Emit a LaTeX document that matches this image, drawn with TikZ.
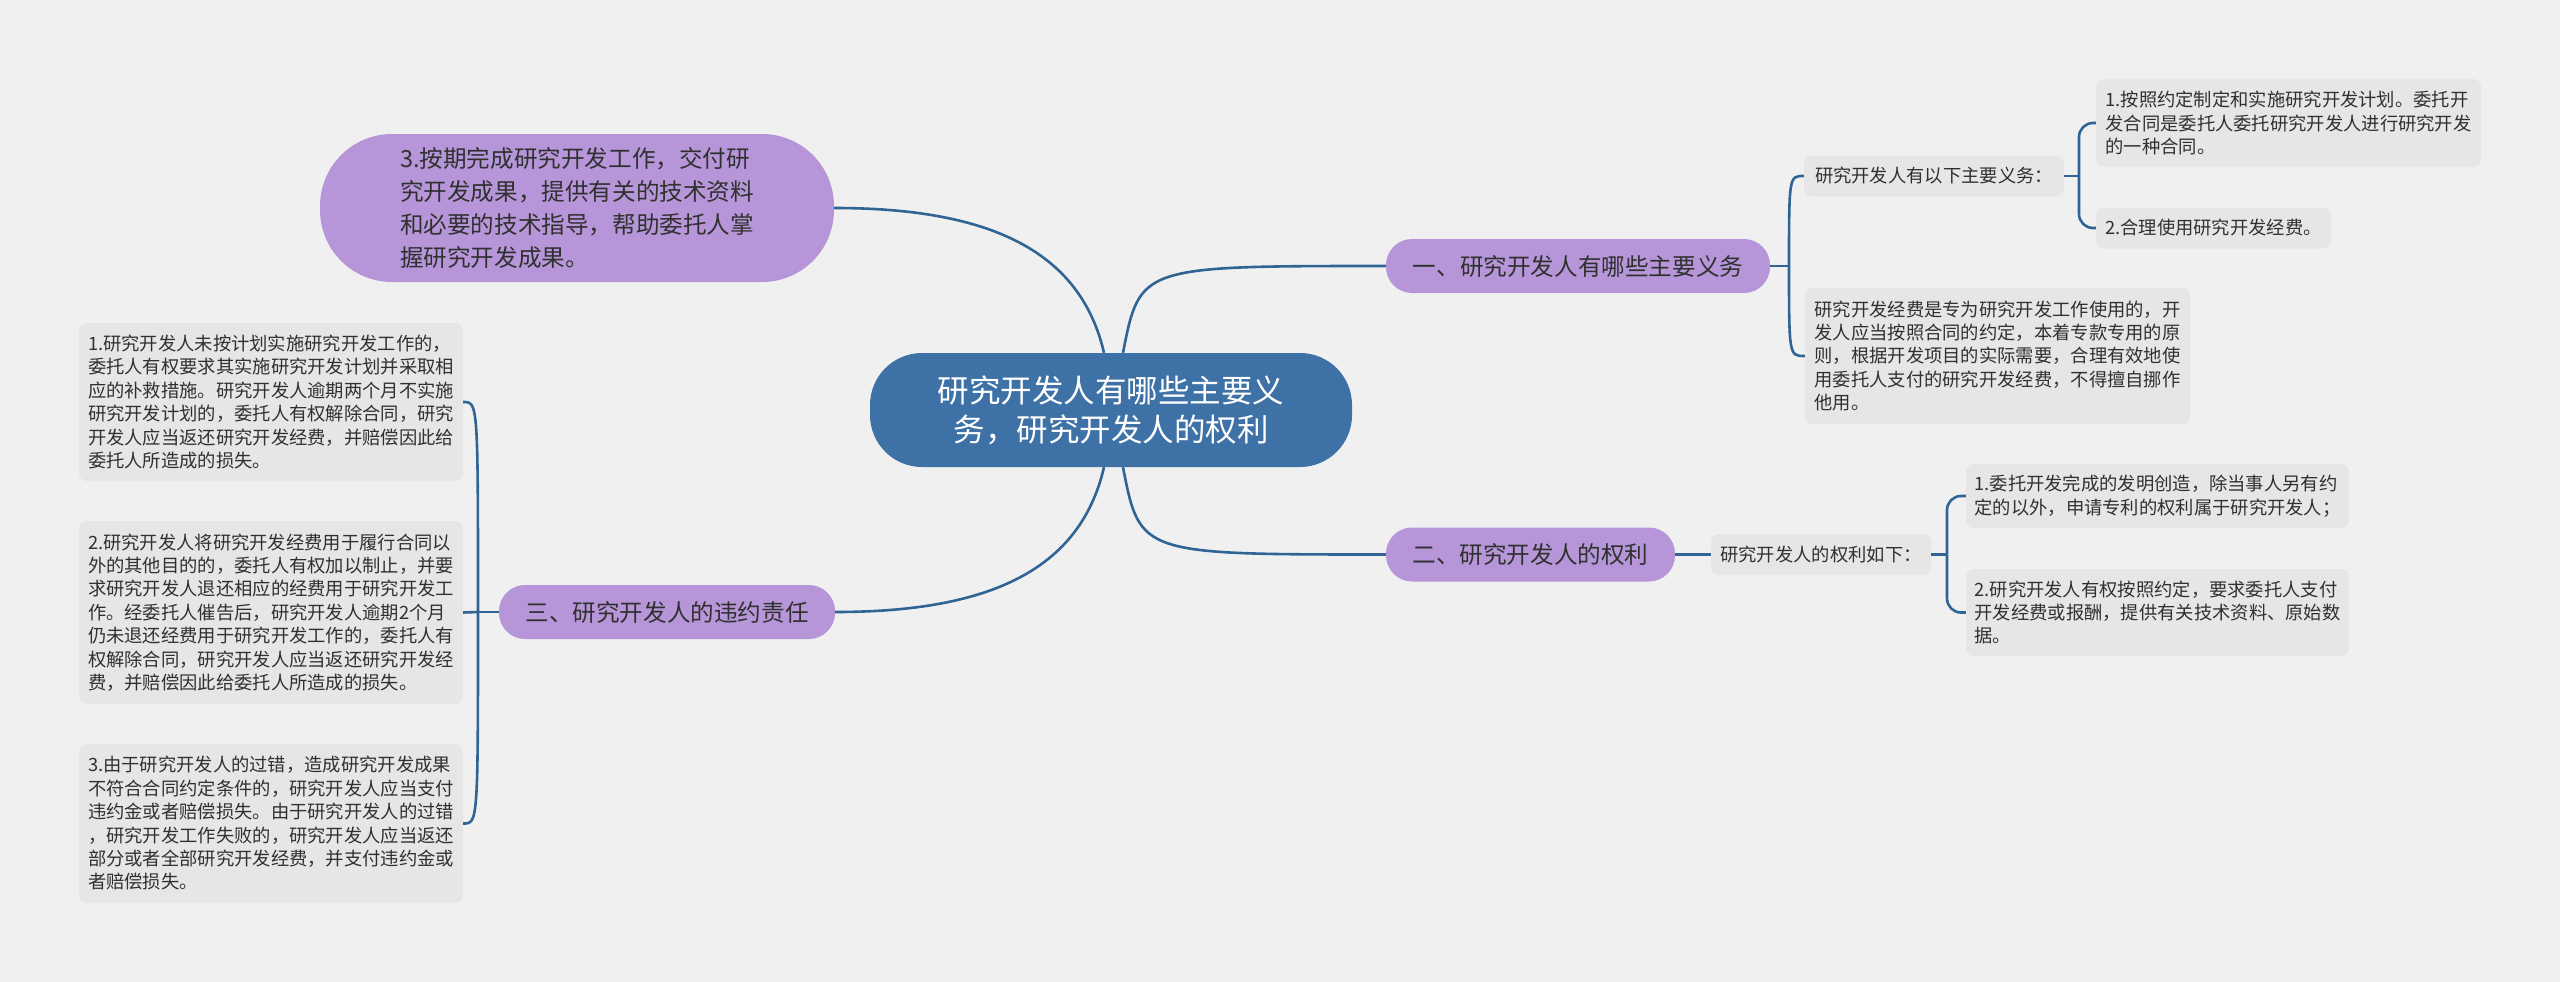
\documentclass[tikz,border=0pt]{standalone}
\usepackage{fontspec}
\setmainfont{Noto Sans CJK SC}
\usetikzlibrary{positioning,calc}
\definecolor{bgcol}{HTML}{F0F0F0}
\definecolor{rootblue}{HTML}{3E72A6}
\definecolor{topicpurple}{HTML}{B696D8}
\definecolor{leafgray}{HTML}{E6E6E6}
\definecolor{linkblue}{HTML}{2F6494}
\definecolor{txtdark}{HTML}{303030}

\begin{document}
\begin{tikzpicture}[x=1pt, y=-1pt, inner sep=0pt,
  root/.style={rectangle, rounded corners=52pt, fill=rootblue, text=white, align=center, font=\fontsize{31.5}{39}\selectfont},
  topic/.style={rectangle, rounded corners=26pt, fill=topicpurple, text=txtdark, align=center, font=\fontsize{23.6}{33}\selectfont},
  leaf/.style={rectangle, rounded corners=8pt, fill=leafgray, text=txtdark, align=left, font=\fontsize{18.3}{23.4}\selectfont},
  link/.style={draw=linkblue, line width=2.6pt}]
\fill[bgcol] (0,0) rectangle (2560,982);
\useasboundingbox (0,0) rectangle (2560,982);
\node[root, minimum width=482pt, minimum height=114pt] (root) at (1111,410) {研究开发人有哪些主要义\\务，研究开发人的权利};
\node[topic, rounded corners=72pt, align=left, minimum width=514pt, minimum height=148pt] (duty3) at (577,208) {3.按期完成研究开发工作，交付研\\究开发成果，提供有关的技术资料\\和必要的技术指导，帮助委托人掌\\握研究开发成果。};
\node[topic, minimum width=384pt, minimum height=54pt] (b1) at (1578,266) {一、研究开发人有哪些主要义务};
\node[topic, minimum width=289pt, minimum height=54pt] (b2) at (1530.5,554.5) {二、研究开发人的权利};
\node[topic, minimum width=336pt, minimum height=54pt] (b3) at (667,612) {三、研究开发人的违约责任};
\node[leaf, minimum width=260pt, minimum height=41pt] (d0) at (1934,176) {研究开发人有以下主要义务：};
\node[leaf, minimum width=385pt, minimum height=88pt] (d2) at (2288.5,123) {1.按照约定制定和实施研究开发计划。委托开\\发合同是委托人委托研究开发人进行研究开发\\的一种合同。};
\node[leaf, minimum width=235pt, minimum height=41pt] (d3) at (2213.5,228) {2.合理使用研究开发经费。};
\node[leaf, minimum width=385pt, minimum height=136pt] (d1) at (1997.5,356) {研究开发经费是专为研究开发工作使用的，开\\发人应当按照合同的约定，本着专款专用的原\\则，根据开发项目的实际需要，合理有效地使\\用委托人支付的研究开发经费，不得擅自挪作\\他用。};
\node[leaf, minimum width=220pt, minimum height=41pt] (r0) at (1821,554.5) {研究开发人的权利如下：};
\node[leaf, minimum width=383pt, minimum height=64pt] (r1) at (2157.5,496) {1.委托开发完成的发明创造，除当事人另有约\\定的以外，申请专利的权利属于研究开发人；};
\node[leaf, minimum width=383pt, minimum height=87pt] (r2) at (2157.5,612.5) {2.研究开发人有权按照约定，要求委托人支付\\开发经费或报酬，提供有关技术资料、原始数\\据。};
\node[leaf, minimum width=384pt, minimum height=158pt] (l1) at (271,402) {1.研究开发人未按计划实施研究开发工作的，\\委托人有权要求其实施研究开发计划并采取相\\应的补救措施。研究开发人逾期两个月不实施\\研究开发计划的，委托人有权解除合同，研究\\开发人应当返还研究开发经费，并赔偿因此给\\委托人所造成的损失。};
\node[leaf, minimum width=384pt, minimum height=183pt] (l2) at (271,612.5) {2.研究开发人将研究开发经费用于履行合同以\\外的其他目的的，委托人有权加以制止，并要\\求研究开发人退还相应的经费用于研究开发工\\作。经委托人催告后，研究开发人逾期2个月\\仍未退还经费用于研究开发工作的，委托人有\\权解除合同，研究开发人应当返还研究开发经\\费，并赔偿因此给委托人所造成的损失。};
\node[leaf, minimum width=384pt, minimum height=159pt] (l3) at (271,823.5) {3.由于研究开发人的过错，造成研究开发成果\\不符合合同约定条件的，研究开发人应当支付\\违约金或者赔偿损失。由于研究开发人的过错\\，研究开发工作失败的，研究开发人应当返还\\部分或者全部研究开发经费，并支付违约金或\\者赔偿损失。};
\coordinate (j1) at (1789,266);
\coordinate (jd) at (2079,176);
\coordinate (jr) at (1947,554.5);
\coordinate (j3) at (478,612);
\draw[link] ($(root.north)+(12,0)$) .. controls ($(root.north |- b1.west)+(29,0)$) .. (b1.west);
\draw[link] ($(root.south)+(12,0)$) .. controls ($(root.south |- b2.west)+(29,0)$) .. (b2.west);
\draw[link] ($(root.north)+(-7,0)$) .. controls ($(root.north)+(-31,-103)$) and ($(duty3.east)+(154,0)$) .. (duty3.east);
\draw[link] ($(root.south)+(-7,0)$) .. controls ($(root.south)+(-31,103)$) and ($(b3.east)+(154,0)$) .. (b3.east);
\draw[link] (b1.east) -- (j1); \draw[link] (j1) .. controls (j1 |- d0.west) .. (d0.west); \draw[link] (j1) .. controls (j1 |- d1.west) .. (d1.west);
\draw[link] (d0.east) -- (jd); \draw[link, rounded corners=14pt] (jd) |- (d2.west); \draw[link, rounded corners=14pt] (jd) |- (d3.west);
\draw[link] (b2.east) -- (r0.west);
\draw[link] (r0.east) -- (jr); \draw[link, rounded corners=14pt] (jr) |- (r1.west); \draw[link, rounded corners=14pt] (jr) |- (r2.west);
\draw[link] (b3.west) -- (j3); \draw[link] (j3) .. controls (j3 |- l1.east) .. (l1.east); \draw[link] (j3) -- (l2.east); \draw[link] (j3) .. controls (j3 |- l3.east) .. (l3.east);
\end{tikzpicture}
\end{document}
